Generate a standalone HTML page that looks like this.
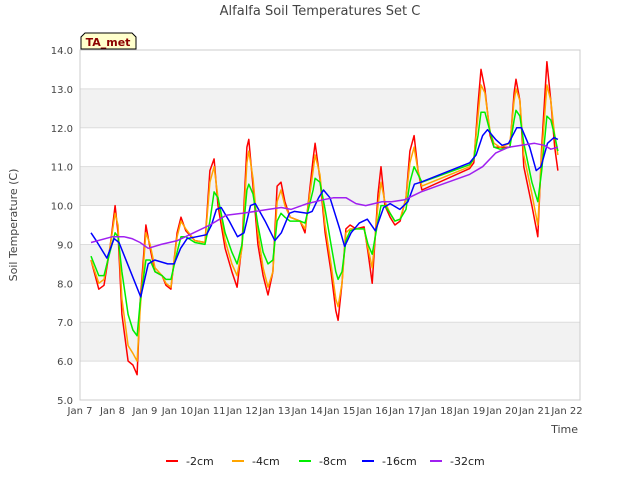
<!DOCTYPE html>
<html><head><meta charset="utf-8"><style>
body{margin:0;background:#fff;font-family:"Liberation Sans","DejaVu Sans",sans-serif}
svg text{font-family:"DejaVu Sans","Liberation Sans",sans-serif}
</style></head><body>
<svg id="chart" width="640" height="480" viewBox="0 0 640 480">
<rect width="640" height="480" fill="#fff"/>
<text x="320" y="15" text-anchor="middle" font-size="13" fill="#444">Alfalfa Soil Temperatures Set C</text>
<g id="bands"></g><g id="grid"></g>
<rect x="80" y="50" width="500" height="350" fill="none" stroke="#ccc"/>
<g id="yticks"></g><g id="xticks"></g><g id="series"></g>
<text transform="translate(17,225) rotate(-90)" text-anchor="middle" font-size="11" fill="#444">Soil Temperature (C)</text>
<text x="578" y="433" text-anchor="end" font-size="11" fill="#444">Time</text>
<g>
<path d="M81,49 L81,37 L85,33 L132,33 L136,37 L136,49 Z" fill="#ffffcc" stroke="#000"/>
<text x="108" y="46" text-anchor="middle" font-size="11" font-weight="bold" fill="#8b0000">TA_met</text></g>
<g id="legend"></g>
</svg>
<script>
const yTicks=[5,6,7,8,9,10,11,12,13,14];
const xTickLabels=["Jan 7","Jan 8","Jan 9","Jan 10","Jan 11","Jan 12","Jan 13","Jan 14","Jan 15","Jan 16","Jan 17","Jan 18","Jan 19","Jan 20","Jan 21","Jan 22"];
const seriesNames=["-2cm","-4cm","-8cm","-16cm","-32cm"];
const seriesColors=["#ff0000","#ffa500","#00ee00","#0000ff","#a020f0"];
const dDays=[0.34,0.58,0.74,0.92,1.08,1.17,1.29,1.48,1.63,1.76,1.85,2.03,2.16,2.31,2.53,2.65,2.80,2.99,3.11,3.26,3.54,3.85,4.00,4.13,4.25,4.47,4.68,4.84,4.99,5.14,5.2,5.33,5.48,5.64,5.79,5.94,6.07,6.19,6.31,6.47,6.78,6.93,7.18,7.24,7.39,7.55,7.73,7.88,7.95,8.07,8.19,8.32,8.50,8.75,8.87,9.0,9.18,9.27,9.39,9.55,9.70,9.86,10.04,10.16,10.29,10.41,10.53,12.0,12.13,12.26,12.35,12.47,12.63,12.75,12.94,13.24,13.37,13.43,13.55,13.67,13.92,14.1,14.22,14.38,14.5,14.62,14.72];
const t2cm=[8.6,7.85,7.95,8.9,10.0,9.3,7.2,6.0,5.9,5.65,7.5,9.5,8.9,8.3,8.2,7.95,7.85,9.3,9.7,9.35,9.1,9.05,10.9,11.2,10.0,8.9,8.3,7.9,9.0,11.5,11.7,10.5,9.0,8.2,7.7,8.3,10.5,10.6,10.1,9.7,9.6,9.3,11.2,11.6,10.7,9.3,8.3,7.3,7.05,8.0,9.4,9.5,9.4,9.45,8.8,8.0,10.3,11.0,10.0,9.7,9.5,9.6,10.2,11.4,11.8,10.9,10.4,10.95,11.1,12.6,13.5,13.0,11.8,11.5,11.5,11.5,12.9,13.25,12.7,11.0,10.0,9.2,11.5,13.7,12.7,11.5,10.9];
const t4cm=[8.6,8.0,8.1,8.9,9.8,9.5,7.6,6.4,6.2,6.0,7.3,9.3,9.0,8.4,8.2,8.0,7.9,9.2,9.6,9.4,9.1,9.05,10.6,11.0,10.2,9.1,8.5,8.2,8.9,11.1,11.4,10.7,9.3,8.4,7.9,8.3,10.1,10.4,10.0,9.7,9.6,9.4,10.9,11.3,10.8,9.5,8.5,7.6,7.4,8.0,9.3,9.4,9.4,9.4,8.9,8.4,10.0,10.6,10.1,9.8,9.6,9.65,10.2,11.1,11.5,10.9,10.5,11.0,11.2,12.3,13.1,12.9,11.9,11.6,11.5,11.6,12.7,13.0,12.7,11.3,10.3,9.5,11.3,13.1,12.7,11.8,11.3];
const t8cm=[8.7,8.2,8.2,8.8,9.3,9.2,8.3,7.2,6.8,6.65,7.5,8.6,8.6,8.3,8.2,8.1,8.1,8.8,9.2,9.2,9.05,9.0,9.6,10.35,10.2,9.3,8.8,8.5,9.0,10.4,10.55,10.3,9.5,8.8,8.5,8.6,9.6,9.8,9.7,9.6,9.6,9.55,10.4,10.7,10.6,9.9,9.0,8.3,8.1,8.3,9.1,9.35,9.4,9.4,9.0,8.75,9.6,10.0,10.0,9.8,9.6,9.65,9.9,10.6,11.0,10.8,10.6,11.05,11.2,11.8,12.4,12.4,11.9,11.5,11.45,11.5,12.2,12.45,12.3,11.6,10.6,10.1,10.9,12.3,12.2,11.8,11.4];
const bDays=[0.34,0.5,0.83,1.05,1.2,1.87,2.1,2.3,2.7,2.9,3.1,3.3,3.6,3.9,4.05,4.2,4.35,4.6,4.85,5.05,5.25,5.4,5.7,6.0,6.2,6.45,6.6,7.0,7.15,7.35,7.5,7.7,8.0,8.15,8.35,8.6,8.85,9.1,9.35,9.55,9.85,10.1,10.3,10.5,12.0,12.2,12.4,12.55,12.8,13.0,13.2,13.45,13.6,13.85,14.05,14.2,14.4,14.6,14.72];
const t16cm=[9.3,9.1,8.65,9.15,9.05,7.65,8.5,8.6,8.5,8.5,8.9,9.15,9.2,9.25,9.5,9.9,9.95,9.6,9.2,9.3,10.0,10.05,9.6,9.1,9.3,9.8,9.85,9.8,9.85,10.2,10.4,10.2,9.4,8.95,9.3,9.55,9.65,9.35,9.95,10.05,9.9,10.1,10.55,10.6,11.1,11.3,11.8,11.95,11.7,11.55,11.6,12.0,12.0,11.5,10.9,11.0,11.6,11.75,11.7];
const pDays=[0.34,1.0,1.35,1.6,1.85,2.1,2.5,3.0,3.5,4.0,4.5,5.0,5.4,5.8,6.2,6.5,7.0,7.5,7.8,8.2,8.5,8.8,9.3,9.6,10.0,10.5,11.0,12.0,12.4,12.8,13.2,13.6,14.0,14.3,14.5,14.72];
const t32cm=[9.05,9.2,9.2,9.15,9.05,8.9,9.0,9.1,9.3,9.5,9.75,9.8,9.85,9.9,9.95,9.9,10.05,10.15,10.2,10.2,10.05,10.0,10.1,10.1,10.15,10.35,10.5,10.8,11.0,11.35,11.5,11.55,11.6,11.55,11.45,11.5];

const NS="http://www.w3.org/2000/svg";
const X0=80,X1=580,Y0=400,Y1=50,DAYW=(567-80)/15;
const xs=d=>X0+d*DAYW;
const ys=v=>Y0-(v-5)/(14-5)*(Y0-Y1);
function mk(tag,attrs,parent){const e=document.createElementNS(NS,tag);for(const k in attrs)e.setAttribute(k,attrs[k]);parent.appendChild(e);return e;}
const bands=document.getElementById('bands'),grid=document.getElementById('grid');
for(let v=6;v<14;v+=2){const r=mk('rect',{x:X0,y:ys(v+1),width:X1-X0,height:ys(v)-ys(v+1),fill:'#f2f2f2'},bands);

}
const yt=document.getElementById('yticks');
yTicks.forEach(v=>{const l=mk('line',{x1:X0,x2:X1,y1:ys(v),y2:ys(v),stroke:'#ddd'},grid);


const t=mk('text',{x:X0-7,y:ys(v)+4,'text-anchor':'end','font-size':10,fill:'#444'},yt);t.textContent=v.toFixed(1);

});
const xt=document.getElementById('xticks');
xTickLabels.forEach((s,i)=>{const t=mk('text',{x:xs(i),y:414,'text-anchor':'middle','font-size':10,fill:'#444'},xt);t.textContent=s;

});
const sg=document.getElementById('series');
const sets=[[dDays,t2cm],[dDays,t4cm],[dDays,t8cm],[bDays,t16cm],[pDays,t32cm]];
sets.forEach((s,i)=>{const pts=s[0].map((d,j)=>xs(d).toFixed(1)+','+ys(s[1][j]).toFixed(1)).join(' ');
const p=mk('polyline',{points:pts,fill:'none',stroke:seriesColors[i],'stroke-width':1.5,'stroke-linejoin':'round'},sg);

});
const lg=document.getElementById('legend');
const lx=[166,232,299,362,430];
seriesNames.forEach((n,i)=>{const g=mk('g',{},lg);


mk('line',{x1:lx[i],x2:lx[i]+12,y1:461,y2:461,stroke:seriesColors[i],'stroke-width':2},g);
const t=mk('text',{x:lx[i]+20,y:465,'font-size':11,fill:'#222'},g);t.textContent=n;});
</script>
</body></html>
